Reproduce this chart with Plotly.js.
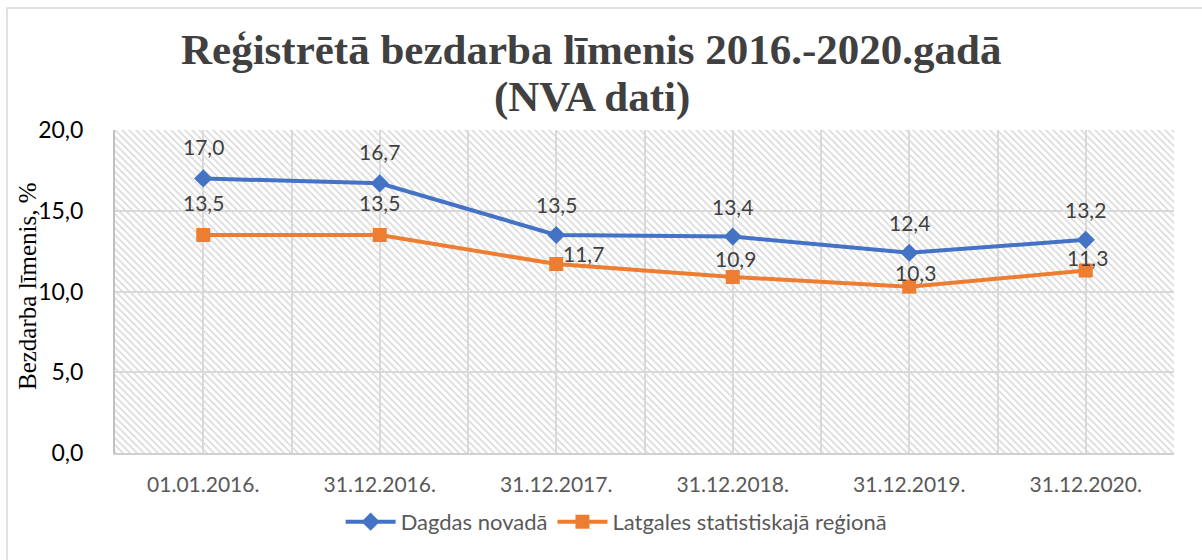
<!DOCTYPE html>
<html>
<head>
<meta charset="utf-8">
<script src="https://cdn.plot.ly/plotly-3.0.1.min.js"></script>
<style>html,body{margin:0;padding:0;background:#fff;}#chart{width:1202px;height:560px;}</style>
</head>
<body>
<div id="chart"></div>
<script>
// ---- data ----
const categories = ["01.01.2016.", "31.12.2016.", "31.12.2017.", "31.12.2018.", "31.12.2019.", "31.12.2020."];
const seriesNames = ["Dagdas novadā", "Latgales statistiskajā reģionā"];
const dagdas = [17.0, 16.7, 13.5, 13.4, 12.4, 13.2];
const latgale = [13.5, 13.5, 11.7, 10.9, 10.3, 11.3];
const yTicks = [0, 5, 10, 15, 20];
const titleLines = ["Reģistrētā bezdarba līmenis 2016.-2020.gadā", "(NVA dati)"];
const yTitle = "Bezdarba līmenis, %";

// ---- label offsets (style only) ----
const blueShift = [[0,32],[0,32],[0,30],[0,30],[0,30],[0,30]];
const orangeShift = [[0,32],[0,32],[27,11],[3,18],[6,14],[2,13]];

const idx = categories.map((c, i) => i);
const BLUE = "#4472C4", ORANGE = "#ED7D31";
const SANS = "Lato, 'Open Sans', sans-serif";
const SERIF = "'Liberation Serif', 'Times New Roman', serif";

const traces = [
  {x: idx, y: dagdas, name: seriesNames[0], type: "scatter", mode: "lines+markers",
   line: {color: BLUE, width: 4}, marker: {symbol: "diamond", size: 14, color: BLUE}, hoverinfo: "y"},
  {x: idx, y: latgale, name: seriesNames[1], type: "scatter", mode: "lines+markers",
   line: {color: ORANGE, width: 4}, marker: {symbol: "square", size: 14, color: ORANGE}, hoverinfo: "y"}
];

function fmt(v){ return v.toFixed(1).replace(".", ","); }
const labelFont = {family: SANS, size: 21, color: "#404040"};
const annotations = [];
idx.forEach(i => {
  annotations.push({x: i, y: dagdas[i], xref: "x", yref: "y", text: fmt(dagdas[i]), showarrow: false,
    xshift: blueShift[i][0], yshift: blueShift[i][1], font: labelFont});
  annotations.push({x: i, y: latgale[i], xref: "x", yref: "y", text: fmt(latgale[i]), showarrow: false,
    xshift: orangeShift[i][0], yshift: orangeShift[i][1], font: labelFont});
});
// title (two lines)
const titleFont = {family: SERIF, size: 43, color: "#404040"};
annotations.push({text: "<b>" + titleLines[0] + "</b>", xref: "paper", yref: "paper", x: 0.4504, y: 1.2477,
  xanchor: "center", yanchor: "middle", showarrow: false, font: titleFont});
annotations.push({text: "<b>" + titleLines[1] + "</b>", xref: "paper", yref: "paper", x: 0.4504, y: 1.102,
  xanchor: "center", yanchor: "middle", showarrow: false, font: titleFont});
// y-axis title
annotations.push({text: yTitle, xref: "paper", yref: "paper", x: -0.0831, y: 0.517, textangle: -90,
  xanchor: "center", yanchor: "middle", showarrow: false, font: {family: SERIF, size: 25, color: "#000000"}});

// hatch background
const W = 1059, H = 323, P = 7;
const svg = `<svg xmlns='http://www.w3.org/2000/svg' width='${W}' height='${H}'><defs><pattern id='p' width='${P}' height='${P}' patternUnits='userSpaceOnUse'><rect width='${P}' height='${P}' fill='white'/><path d='M-1,-1 L${P+1},${P+1} M-1,${P-1} L1,${P+1} M${P-1},-1 L${P+1},1' stroke='#dedede' stroke-width='1.8'/></pattern></defs><rect width='${W}' height='${H}' fill='url(#p)'/></svg>`;
const bgSrc = "data:image/svg+xml;base64," + btoa(svg);

const layout = {
  width: 1202, height: 560,
  margin: {l: 115, r: 28, t: 130, b: 107},
  paper_bgcolor: "#ffffff", plot_bgcolor: "rgba(0,0,0,0)",
  separators: ", ",
  xaxis: {
    range: [-0.5, 5.5], tickmode: "array", tickvals: idx, ticktext: categories,
    showgrid: true, gridcolor: "#d9d9d9", gridwidth: 1.5,
    minor: {showgrid: true, tickmode: "linear", tick0: -0.5, dtick: 1, gridcolor: "#d9d9d9", gridwidth: 1.5},
    showline: true, linecolor: "#d0d0d0", linewidth: 2, zeroline: false,
    ticks: "", ticklabelstandoff: 12,
    tickfont: {family: SANS, size: 21, color: "#595959"},
    fixedrange: true
  },
  yaxis: {
    range: [0, 20], tickmode: "array", tickvals: yTicks, tickformat: ".1f",
    showgrid: true, gridcolor: "#d9d9d9", gridwidth: 1.5,
    showline: true, linecolor: "#c0c0c0", linewidth: 2, zeroline: false,
    ticks: "", ticklabelstandoff: 25,
    tickfont: {family: SANS, size: 23, color: "#000000"},
    fixedrange: true
  },
  legend: {
    orientation: "h", xref: "container", yref: "container",
    x: 0.513, xanchor: "center", y: 0.068, yanchor: "middle",
    font: {family: SANS, size: 22, color: "#595959"},
    itemwidth: 50, tracegroupgap: 0, bgcolor: "rgba(0,0,0,0)"
  },
  images: [{source: bgSrc, xref: "x domain", yref: "y domain", x: 0, y: 1, sizex: 1, sizey: 1,
    sizing: "stretch", xanchor: "left", yanchor: "top", layer: "below"}],
  shapes: [{type: "rect", xref: "paper", yref: "paper", x0: -0.102, x1: 1.2, y0: -0.5, y1: 1.378,
    line: {color: "#d9d9d9", width: 1.5}, fillcolor: "rgba(0,0,0,0)", layer: "below"}],
  annotations: annotations,
  showlegend: true
};

Plotly.newPlot("chart", traces, layout, {displayModeBar: false});
</script>
</body>
</html>
